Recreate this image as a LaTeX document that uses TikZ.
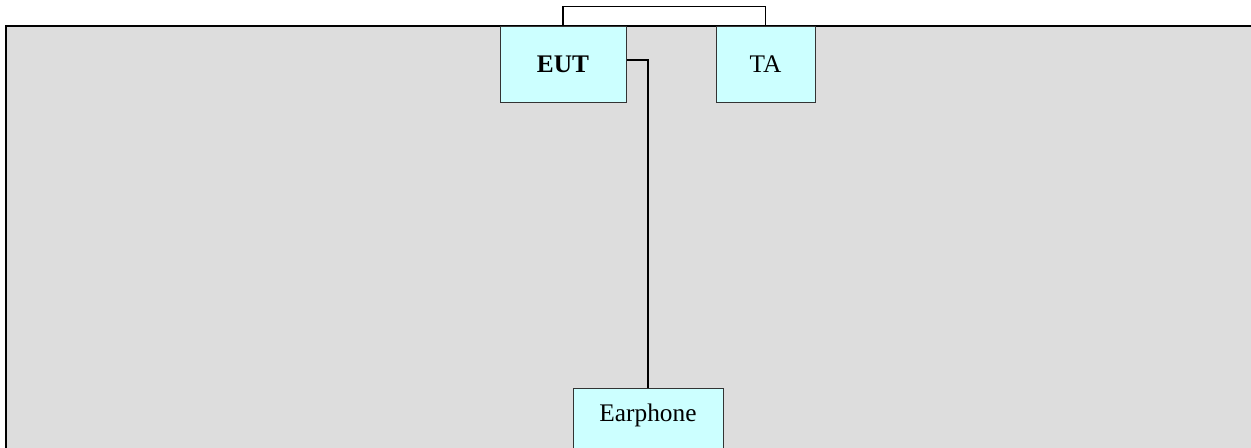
\documentclass[tikz,border=0pt]{standalone}
\usepackage{fontspec}
\setmainfont{Liberation Serif}
\usepackage{tikz}
\usetikzlibrary{positioning}
\definecolor{boxcyan}{HTML}{CCFFFF}
\definecolor{tablegray}{HTML}{DDDDDD}
\definecolor{boxline}{HTML}{333333}
\tikzstyle{unit} = [rectangle, draw=boxline, line width=0.75pt, fill=boxcyan, inner sep=0pt, text centered, font=\fontsize{19}{22}\selectfont]
\tikzstyle{cable} = [black, line width=1.1pt]

\begin{document}
\begin{tikzpicture}[x=0.75pt, y=-0.75pt]
		\useasboundingbox (0,0) rectangle (1251,447);
		\clip (0,0) rectangle (1251,447);
		\coordinate (eut) at (563,64);
		\coordinate (ta) at (765.5,64);
		\coordinate (earphone) at (648,388);
		% Table
		\draw[fill=tablegray, line width=1.6pt] (6,26) rectangle (1270,470);
		% Units
		\node[unit, name=eut, minimum width=94.5pt, minimum height=57pt] at (eut) {\bfseries EUT};
		\node[unit, name=ta, minimum width=74.25pt, minimum height=57pt] at (ta) {TA};
		\node[unit, name=earphone, anchor=north, minimum width=112.5pt, text height=24.75pt, text depth=45pt] at (earphone) {Earphone};
		% Cables
		\draw [cable] (eut.north) -- ++(0,-19) -| (ta.north);
		\draw [cable] ([yshift=3pt]eut.east) -| (earphone.north);
\end{tikzpicture}
\end{document}
